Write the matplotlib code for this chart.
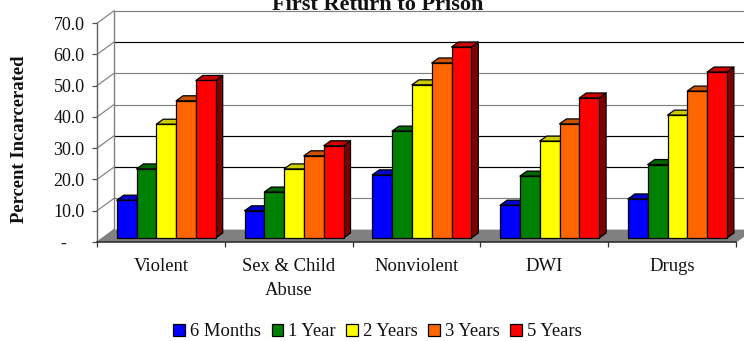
from matplotlib import pyplot as plt
from matplotlib.patches import Patch, Polygon, Rectangle

W, H = 744, 341

categories = ["Violent", "Sex & Child\nAbuse", "Nonviolent", "DWI", "Drugs"]
series_names = ["6 Months", "1 Year", "2 Years", "3 Years", "5 Years"]
months6 = [12.1, 8.7, 20.2, 10.5, 12.5]
year1 = [22.1, 14.7, 34.2, 19.8, 23.5]
year2 = [36.4, 22.1, 49.0, 31.0, 39.3]
year3 = [43.9, 26.3, 56.0, 36.5, 47.0]
year5 = [50.4, 29.5, 61.1, 44.8, 53.1]
y_ticks = [0, 10, 20, 30, 40, 50, 60, 70]
y_tick_labels = ["-    ", "10.0", "20.0", "30.0", "40.0", "50.0", "60.0", "70.0"]

front = ["#0000FF", "#008000", "#FFFF00", "#FF6600", "#FF0000"]
top = ["#0000CC", "#006600", "#CCCC00", "#CC5200", "#CC0000"]
side = ["#000080", "#004000", "#808000", "#803300", "#800000"]
# gridlines come out black or grey in the reference
grid_colors = ["#808080", "#808080", "#000000", "#000000", "#808080", "#808080", "#000000", "#808080"]

# front plane of the chart, in pixels
left, right, base, ceil = 97, 736, 242, 23.2
px_x = 5 / (right - left)
px_y = 70 / (base - ceil)

plt.rcParams['font.family'] = ['Liberation Serif', 'DejaVu Serif']
fig = plt.figure(figsize=(W / 100, H / 100), dpi=100)
ax = fig.add_axes([left / W, 1 - base / H, (right - left) / W, (base - ceil) / H])
ax.set_xlim(0, 5)
ax.set_ylim(0, 70)

# back wall depth and bar depth
wall_dx, wall_dy = 17 * px_x, 12.4 * px_y
bar_dx, bar_dy = 7 * px_x, 5 * px_y
base_y = 4 * px_y
group_start = 19.7 * px_x
bar_w = 19.8 * px_x

# floor, walls
ax.add_patch(Polygon([(0, 0), (wall_dx, wall_dy), (5 + wall_dx, wall_dy), (5, 0)],
                     facecolor="#808080", edgecolor="none", clip_on=False, zorder=1))
for v, c in zip(y_ticks, grid_colors):
  if v > 0:
    ax.plot([wall_dx, 5.2], [v + wall_dy, v + wall_dy], color=c, lw=0.85, clip_on=False, zorder=1)
  ax.plot([0, wall_dx], [v, v + wall_dy], color="#808080", lw=0.85, clip_on=False, zorder=1)
ax.plot([wall_dx, wall_dx], [wall_dy, 70 + wall_dy], color="#808080", lw=1.0, clip_on=False, zorder=1)
ax.plot([5, 5 + wall_dx], [0, wall_dy], color="#808080", lw=0.85, clip_on=False, zorder=1)

# bars, left to right so the next one covers the side of the last
series = [months6, year1, year2, year3, year5]
for i in range(len(categories)):
  for j, values in enumerate(series):
    x0 = i + group_start + j * bar_w
    x1 = x0 + bar_w
    y0 = base_y
    y1 = base_y + values[i]
    line = dict(edgecolor="black", lw=0.9, clip_on=False, zorder=3, joinstyle="round")
    ax.add_patch(Polygon([(x1, y0), (x1 + bar_dx, y0 + bar_dy), (x1 + bar_dx, y1 + bar_dy), (x1, y1)],
                         facecolor=side[j], **line))
    ax.add_patch(Polygon([(x0, y1), (x0 + bar_dx, y1 + bar_dy), (x1 + bar_dx, y1 + bar_dy), (x1, y1)],
                         facecolor=top[j], **line))
    ax.add_patch(Rectangle((x0, y0), bar_w, values[i], facecolor=front[j], **line))

ax.patch.set_visible(False)
for s in ["top", "right"]:
  ax.spines[s].set_visible(False)
ax.spines["left"].set_color("#606060")
ax.spines["bottom"].set_color("#303030")
ax.spines["left"].set_linewidth(1.0)
ax.spines["bottom"].set_linewidth(1.2)
for s in ["left", "bottom"]:
  ax.spines[s].set_zorder(4)

ax.set_yticks(y_ticks)
ax.set_yticklabels(y_tick_labels, fontsize=13, color="#111111")
ax.tick_params(axis="y", length=3.6, width=0.9, color="#505050", pad=5.3)
ax.set_xticks([i + 0.5 for i in range(5)])
ax.set_xticklabels(categories, fontsize=13.4, color="#111111", linespacing=1.6)
ax.set_xticks(range(6), minor=True)
ax.tick_params(axis="x", which="major", length=0, pad=11.2)
ax.tick_params(axis="x", which="minor", length=3.6, width=0.9, color="#303030")

fig.text(20 / W, 1 - 139 / H, "Percent Incarcerated", rotation=90, fontsize=13.4, fontweight="bold",
         ha="center", va="center", color="#111111")
# the reference cuts the title off at the top edge as well
fig.text(377.5 / W, 1 - 10 / H, "First Return to Prison", fontsize=16, fontweight="bold",
         ha="center", va="baseline", color="#111111")

handles = [Patch(facecolor=c, edgecolor="black", lw=0.9) for c in front]
fig.legend(handles, series_names, loc="center", bbox_to_anchor=(377.5 / W, 1 - 332 / H), ncol=5,
           frameon=False, fontsize=13.4, handlelength=0.64, handleheight=0.64, handletextpad=0.25,
           columnspacing=0.57, labelcolor="#111111", borderpad=0)

fig.savefig("out.png", dpi=100)
